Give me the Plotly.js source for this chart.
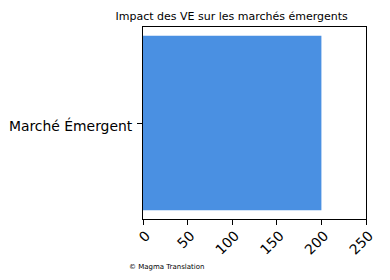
<!DOCTYPE html>
<html><head><meta charset="utf-8">
<script src="https://cdn.plot.ly/plotly-3.0.1.min.js"></script>
<style>html,body{margin:0;padding:0;background:#fff}#c{width:390px;height:280px}</style>
</head><body><div id="c"></div>
<script>
const categories = ["Marché Émergent"];
const values = [200];
const xTicks = [0, 50, 100, 150, 200, 250];

const font = "DejaVu Sans, sans-serif";
Plotly.newPlot("c", [{
  type: "bar", orientation: "h", y: categories, x: values, width: 0.8,
  marker: {color: "#4a90e2", line: {width: 0}}, hoverinfo: "none"
}], {
  width: 390, height: 280,
  margin: {l: 143, r: 24, t: 27, b: 61},
  paper_bgcolor: "#fff", plot_bgcolor: "#fff",
  title: {text: "Impact des VE sur les marchés émergents", font: {family: font, size: 11, color: "#000"},
    xref: "container", yref: "container", x: 0.594, xanchor: "center", y: 0.943, yanchor: "middle"},
  xaxis: {range: [0, 250], tickvals: xTicks, ticktext: xTicks.map(String), tickangle: -45,
    ticks: "outside", ticklen: 5, tickwidth: 1, tickcolor: "#000", showgrid: false, zeroline: false,
    showline: true, linecolor: "#000", linewidth: 1, mirror: true, ticklabelshift: 3, ticklabelstandoff: -3,
    tickfont: {family: font, size: 13.9, color: "#000"}, fixedrange: true},
  yaxis: {range: [-0.44, 0.44], ticks: "outside", ticklen: 5, tickwidth: 1, tickcolor: "#000",
    showgrid: false, zeroline: false, showline: true, linecolor: "#000", linewidth: 1, mirror: true,
    tickfont: {family: font, size: 13.9, color: "#000"}, ticklabelstandoff: 2, ticklabelshift: 3, fixedrange: true},
  showlegend: false,
  annotations: [{text: "© Magma Translation", xref: "paper", yref: "paper", x: -0.07, y: -0.25,
    xanchor: "left", yanchor: "middle", showarrow: false, font: {family: font, size: 7, color: "#000"}}]
}, {displayModeBar: false, staticPlot: true});
</script></body></html>
